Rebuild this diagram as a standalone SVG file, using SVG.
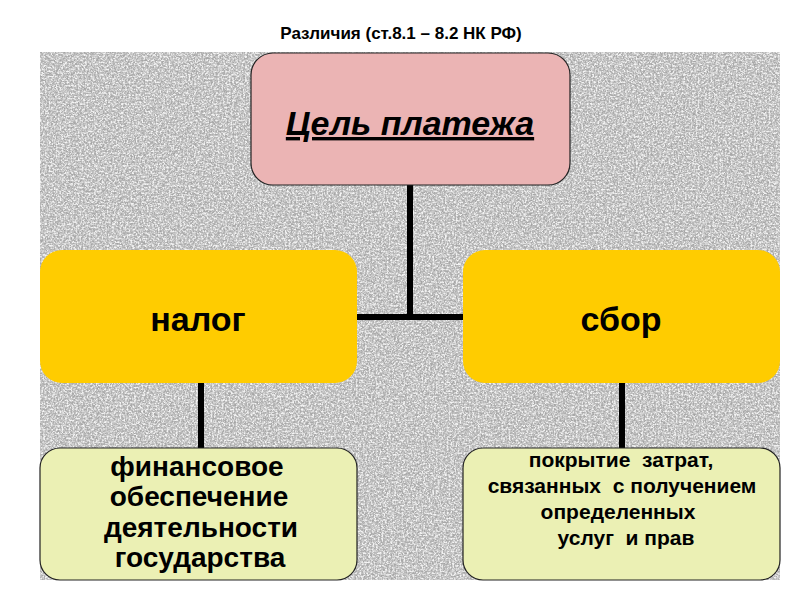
<svg xmlns="http://www.w3.org/2000/svg" width="800" height="600" viewBox="0 0 800 600">
<defs>
<filter id="granite" x="0" y="0" width="100%" height="100%">
<feTurbulence type="fractalNoise" baseFrequency="0.45" numOctaves="3" seed="7" result="n"/>
<feColorMatrix in="n" type="matrix" values="0 0 0 0 0.6  0 0 0 0 0.6  0 0 0 0 0.6  2.4 0 0 0 -0.8" result="spots"/>
<feFlood flood-color="#a9a9a9" result="base"/>
<feComposite in="spots" in2="base" operator="over" result="mix1"/>
<feTurbulence type="fractalNoise" baseFrequency="0.55" numOctaves="2" seed="3" result="n2"/>
<feColorMatrix in="n2" type="matrix" values="0 0 0 0 0.9  0 0 0 0 0.9  0 0 0 0 0.9  0 3.4 0 0 -1.45" result="light"/>
<feComposite in="light" in2="mix1" operator="over" result="mix2"/>
<feTurbulence type="fractalNoise" baseFrequency="0.7" numOctaves="2" seed="11" result="n3"/>
<feColorMatrix in="n3" type="matrix" values="0 0 0 0 0.36  0 0 0 0 0.36  0 0 0 0 0.36  0 0 3.8 0 -2.1" result="dark"/>
<feComposite in="dark" in2="mix2" operator="over" result="mix3"/>
<feComposite in="mix3" in2="SourceGraphic" operator="in"/>
</filter>
</defs>
<style>
.t{font-family:"Liberation Sans",Arial,sans-serif;font-weight:bold;fill:#000;text-anchor:middle}
.pre{white-space:pre}
.conn line{stroke:#000;stroke-width:6}
.pink{fill:#ebb4b4;stroke:#222;stroke-width:1.2}
.yel{fill:#ffcc00}
.grn{fill:#ebf0b4;stroke:#222;stroke-width:1.2}
</style>
<rect width="800" height="600" fill="#fff"/>
<text class="t" x="401" y="38.5" font-size="17">Различия (ст.8.1 – 8.2 НК РФ)</text>
<rect x="40" y="52" width="740" height="528" fill="#aaa" filter="url(#granite)"/>
<g id="connectors" class="conn">
<line x1="410" y1="185" x2="410" y2="320"/>
<line x1="356" y1="317" x2="464" y2="317"/>
<line x1="201" y1="382" x2="201" y2="449"/>
<line x1="622" y1="382" x2="622" y2="449"/>
</g>
<g id="goal">
<rect class="pink" x="251" y="53" width="319" height="132" rx="22"/>
<text class="t" x="410" y="135" font-size="34" font-style="italic" text-decoration="underline">Цель платежа</text>
</g>
<g id="nalog">
<rect class="yel" x="40" y="250" width="317" height="133" rx="22"/>
<text class="t" x="198" y="331" font-size="34">налог</text>
</g>
<g id="sbor">
<rect class="yel" x="463" y="250" width="317" height="133" rx="22"/>
<text class="t" x="621" y="331" font-size="34">сбор</text>
</g>
<g id="nalog-goal">
<rect class="grn" x="40" y="448" width="317" height="132" rx="20"/>
<text class="t" font-size="28"><tspan x="197" y="476">финансовое</tspan><tspan x="199" y="506">обеспечение</tspan><tspan x="201" y="537">деятельности</tspan><tspan x="200" y="567">государства</tspan></text>
</g>
<g id="sbor-goal">
<rect class="grn" x="463" y="448" width="317" height="132" rx="20"/>
<text class="t pre" font-size="21"><tspan x="621" y="467">покрытие  затрат,</tspan><tspan x="622" y="493">связанных  с получением</tspan><tspan x="618" y="519">определенных</tspan><tspan x="626" y="545">услуг  и прав</tspan></text>
</g>
</svg>
